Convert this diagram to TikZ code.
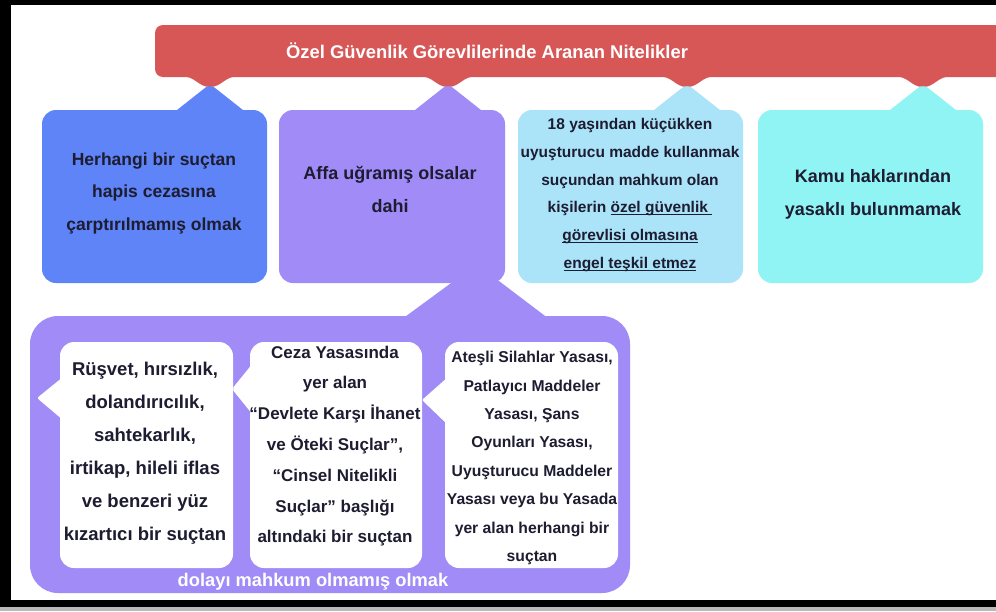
\documentclass[tikz,border=0pt]{standalone}
\usepackage{fontspec}
\setmainfont{Liberation Sans}
\usetikzlibrary{calc}
\definecolor{redban}{HTML}{D75656}
\definecolor{boxblue}{HTML}{5F84F7}
\definecolor{boxpurple}{HTML}{A08BF7}
\definecolor{boxlight}{HTML}{ABE3F9}
\definecolor{boxcyan}{HTML}{90F4F4}
\definecolor{ink}{HTML}{1D1C30}
\newcommand{\myul}[1]{\setbox0\hbox{#1}\rlap{\rule[-2.6pt]{\wd0}{1.1pt}}\box0}
\begin{document}
\begin{tikzpicture}[x=1pt,y=-1pt,
  box/.style={rounded corners=14pt, inner sep=0pt, draw=none},
  txt/.style={align=center, text=ink, inner sep=0pt},
  wtxt/.style={align=center, text=white, inner sep=0pt}]
\useasboundingbox (0,0) rectangle (996,611);
% frame
\fill[black] (0,0) rectangle (996,611);
\fill[white] (11,5) rectangle (996,600);
\fill[gray!55] (0,607) rectangle (996,611);
% banner
\begin{scope}
\clip (0,0) rectangle (996,611);
\node[box, rounded corners=8pt, fill=redban, minimum width=860, minimum height=52] (banner) at (585,51) {};
\end{scope}
\foreach \x in {210,448,687,923}
  \fill[redban] (\x-30,76) .. controls (\x-14,76) and (\x-12,87) .. (\x,87) .. controls (\x+12,87) and (\x+14,76) .. (\x+30,76) -- cycle;
\node[wtxt, font=\bfseries\fontsize{18.4}{22}\selectfont] (title) at (487,51) {Özel Güvenlik Görevlilerinde Aranan Nitelikler};
% top boxes
\node[box, fill=boxblue, minimum width=225, minimum height=173] (b1) at (154.5,196.5) {};
\node[box, fill=boxpurple, minimum width=226, minimum height=173] (b2) at (392,196.5) {};
\node[box, fill=boxlight, minimum width=225, minimum height=173] (b3) at (630.5,196.5) {};
\node[box, fill=boxcyan, minimum width=225, minimum height=173] (b4) at (870.5,196.5) {};
\foreach \x/\c in {210/boxblue,448/boxpurple,687/boxlight,923/boxcyan}
  \fill[\c, rounded corners=6pt] (\x-40,116) -- (\x-33,110) -- (\x,84) -- (\x+33,110) -- (\x+40,116) -- cycle;
% container
\fill[boxpurple, rounded corners=4pt] (398,322) -- (458,278) -- (495,278) -- (553,322) -- cycle;
\node[box, rounded corners=28pt, fill=boxpurple, minimum width=600, minimum height=277] (cont) at (330,454.5) {};
% white boxes
\node[box, fill=white, minimum width=173, minimum height=226] (w1) at (146.5,455) {};
\node[box, fill=white, minimum width=172, minimum height=226] (w2) at (336,455) {};
\node[box, fill=white, minimum width=173, minimum height=226] (w3) at (531.5,455) {};
\fill[white, rounded corners=2pt] (63,377) -- (37,398) -- (63,420) -- cycle;
\fill[white, rounded corners=2pt] (253,363) -- (232,389) -- (253,415) -- cycle;
\fill[white, rounded corners=2pt] (448,377) -- (422,400) -- (448,425) -- cycle;
% texts
\node[txt, font=\bfseries\fontsize{17.5}{32.5}\selectfont] (t1) at (154,193) {Herhangi bir suçtan\\hapis cezasına\\çarptırılmamış olmak};
\node[txt, font=\bfseries\fontsize{18}{33}\selectfont] (t2) at (390,189) {Affa uğramış olsalar\\dahi};
\node[txt, font=\bfseries\fontsize{15.5}{27.7}\selectfont] (t3) at (630,195) {18 yaşından küçükken\\uyuşturucu madde kullanmak\\suçundan mahkum olan\\kişilerin \myul{özel güvenlik\ }\\\myul{görevlisi olmasına}\\\myul{engel teşkil etmez}};
\node[txt, font=\bfseries\fontsize{18}{33}\selectfont] (t4) at (873,194) {Kamu haklarından\\yasaklı bulunmamak};
\node[txt, font=\bfseries\fontsize{18.5}{33}\selectfont] (tw1) at (145,453) {Rüşvet, hırsızlık,\\dolandırıcılık,\\sahtekarlık,\\irtikap, hileli iflas\\ve benzeri yüz\\kızartıcı bir suçtan};
\node[txt, font=\bfseries\fontsize{17}{30.8}\selectfont] (tw2) at (335,446) {Ceza Yasasında\\yer alan\\“Devlete Karşı İhanet\\ve Öteki Suçlar”,\\“Cinsel Nitelikli\\Suçlar” başlığı\\altındaki bir suçtan};
\node[txt, font=\bfseries\fontsize{15.7}{28.4}\selectfont] (tw3) at (532,458) {Ateşli Silahlar Yasası,\\Patlayıcı Maddeler\\Yasası, Şans\\Oyunları Yasası,\\Uyuşturucu Maddeler\\Yasası veya bu Yasada\\yer alan herhangi bir\\suçtan};
\node[wtxt, font=\bfseries\fontsize{18.3}{22}\selectfont] (cap) at (313,582) {dolayı mahkum olmamış olmak};
\end{tikzpicture}
\end{document}
